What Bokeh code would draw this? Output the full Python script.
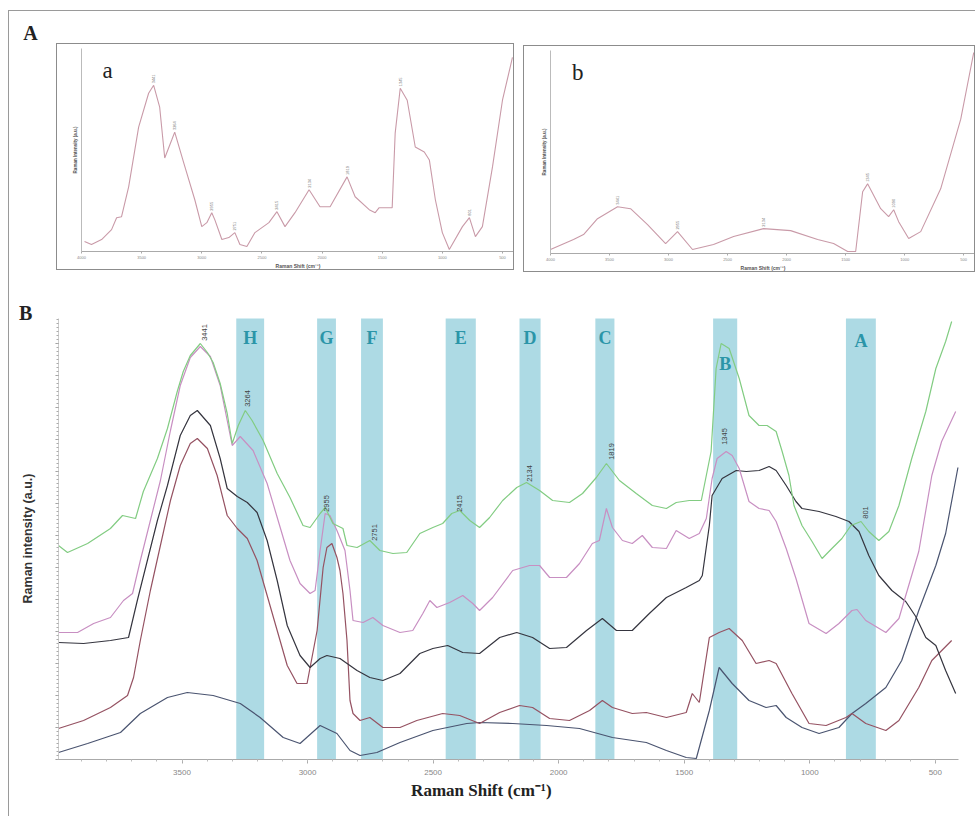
from math import pi
from bokeh.plotting import figure
from bokeh.models import (Range1d, Label, FixedTicker, SingleIntervalTicker,
                          CustomJSTickFormatter, Spacer, ColumnDataSource)
from bokeh.layouts import row, column
from bokeh.embed import file_html
from bokeh.resources import INLINE
from bokeh.core.properties import value

SERIF = "Liberation Serif"
SANS = "Liberation Sans"

# ---------------- Panel A-a (single spectrum) ----------------
a_shift = [3975, 3917, 3833, 3750, 3708, 3667, 3608, 3525, 3442, 3400, 3350, 3308, 3250, 3225,
           3150, 3058, 3000, 2958, 2917, 2892, 2833, 2775, 2725, 2683, 2625, 2558, 2442, 2375,
           2308, 2225, 2108, 2017, 1933, 1792, 1725, 1608, 1558, 1525, 1417, 1392, 1350, 1292,
           1225, 1150, 1108, 1058, 1000, 942, 833, 775, 725, 667, 583, 500, 417]
a_int = [10, 7, 12, 22, 34, 35, 65, 125, 159, 167, 145, 94, 112, 120, 89, 52, 25, 29, 39, 32,
         12, 14, 19, 7, 5, 19, 29, 40, 25, 39, 62, 45, 45, 75, 55, 42, 39, 44, 44, 119, 164, 152,
         105, 100, 92, 52, 19, 2, 25, 34, 15, 25, 85, 152, 195]
a_peak_x = [3400, 3225, 2917, 2725, 2375, 2108, 1792, 1350, 775]
a_peak_y = [167, 120, 39, 19, 40, 62, 75, 164, 34]
a_peak_txt = ["3441", "3264", "2955", "2751", "2415", "2134", "1819", "1345", "801"]

# ---------------- Panel A-b (single spectrum) ----------------
b_shift = [4000, 3805, 3720, 3602, 3432, 3322, 3178, 3025, 2924, 2797, 2619, 2449, 2195, 1966,
           1737, 1602, 1483, 1415, 1356, 1314, 1203, 1136, 1093, 1051, 966, 864, 695, 525, 415]
b_int = [4, 14, 19, 35, 47, 45, 29, 10, 22, 4, 9, 17, 25, 23, 14, 10, 2, 2, 62, 70, 45, 37, 44,
         32, 15, 22, 65, 135, 202]
b_peak_x = [3432, 2924, 2195, 1314, 1093]
b_peak_y = [47, 22, 25, 70, 44]
b_peak_txt = ["3441", "2955", "2134", "1345", "1090"]

small_ticks = [4000, 3500, 3000, 2500, 2000, 1500, 1000, 500]

# ---------------- Panel B (five spectra) ----------------
green_x = [3992, 3956, 3876, 3785, 3737, 3685, 3654, 3598, 3558, 3519, 3495, 3467, 3427, 3399,
           3376, 3348, 3320, 3300, 3276, 3248, 3221, 3177, 3121, 3070, 3018, 2990, 2950, 2930,
           2899, 2859, 2843, 2803, 2752, 2712, 2660, 2605, 2553, 2501, 2462, 2426, 2394, 2354,
           2315, 2275, 2223, 2167, 2128, 2076, 2024, 1957, 1905, 1850, 1810, 1758, 1691, 1627,
           1571, 1532, 1480, 1432, 1393, 1373, 1353, 1321, 1281, 1242, 1202, 1170, 1134, 1110,
           1083, 1063, 1031, 991, 951, 912, 872, 836, 796, 765, 725, 685, 645, 594, 538, 498,
           459, 435]
green_y = [214, 207, 216, 231, 244, 241, 268, 301, 331, 368, 388, 404, 416, 407, 397, 376, 346,
           316, 334, 349, 339, 319, 286, 262, 234, 232, 246, 252, 236, 231, 214, 212, 219, 209,
           206, 207, 226, 232, 236, 246, 249, 239, 232, 242, 259, 272, 277, 269, 259, 257, 266,
           282, 296, 279, 266, 254, 251, 257, 259, 259, 308, 391, 416, 411, 381, 344, 334, 334,
           328, 308, 284, 254, 234, 218, 201, 211, 221, 234, 238, 228, 219, 228, 254, 301, 348,
           391, 418, 438]

pink_x = [3992, 3916, 3852, 3785, 3733, 3697, 3666, 3626, 3586, 3546, 3507, 3467, 3427, 3387,
          3348, 3320, 3300, 3268, 3217, 3161, 3109, 3070, 3030, 2990, 2970, 2950, 2930, 2911,
          2883, 2851, 2831, 2819, 2779, 2740, 2700, 2632, 2581, 2541, 2513, 2485, 2434, 2382,
          2342, 2315, 2263, 2183, 2116, 2076, 2036, 1969, 1917, 1866, 1838, 1810, 1786, 1746,
          1707, 1667, 1627, 1571, 1532, 1480, 1440, 1412, 1389, 1369, 1333, 1309, 1281, 1242,
          1202, 1162, 1134, 1094, 1055, 1003, 935, 884, 832, 812, 777, 697, 645, 566, 514, 475,
          419]
pink_y = [127, 127, 136, 142, 159, 166, 199, 239, 279, 329, 374, 402, 413, 403, 374, 339, 314,
          323, 309, 276, 232, 199, 176, 166, 169, 209, 246, 244, 229, 209, 169, 139, 137, 142,
          134, 127, 129, 146, 159, 152, 157, 164, 156, 149, 162, 189, 194, 194, 182, 182, 196,
          216, 219, 251, 232, 219, 216, 224, 212, 211, 229, 221, 226, 241, 281, 301, 308, 304,
          291, 258, 251, 249, 238, 211, 181, 136, 126, 136, 149, 150, 139, 127, 141, 208, 284,
          318, 348]

black_x = [3992, 3892, 3785, 3713, 3678, 3638, 3598, 3558, 3507, 3467, 3439, 3387, 3348, 3320,
           3280, 3240, 3201, 3161, 3121, 3081, 3030, 2990, 2950, 2923, 2871, 2803, 2752, 2700,
           2632, 2553, 2501, 2442, 2382, 2315, 2235, 2167, 2104, 2036, 1969, 1889, 1826, 1770,
           1707, 1639, 1571, 1492, 1440, 1428, 1400, 1389, 1349, 1293, 1253, 1202, 1162, 1134,
           1094, 1055, 1031, 963, 896, 844, 804, 765, 725, 673, 618, 578, 538, 498, 459, 419]
black_y = [117, 116, 119, 122, 159, 199, 239, 274, 324, 344, 349, 334, 301, 271, 263, 257, 247,
           219, 179, 134, 104, 92, 101, 104, 101, 89, 82, 79, 86, 106, 111, 114, 107, 106, 122,
           127, 122, 111, 112, 129, 141, 129, 129, 146, 162, 172, 179, 184, 234, 264, 281, 289,
           288, 289, 293, 289, 274, 258, 251, 248, 243, 238, 228, 204, 184, 169, 158, 143, 122,
           114, 89, 66]

brown_x = [3992, 3892, 3785, 3717, 3693, 3666, 3626, 3586, 3546, 3507, 3467, 3439, 3399, 3360,
           3320, 3280, 3240, 3201, 3161, 3121, 3081, 3042, 3002, 2962, 2938, 2923, 2903, 2883,
           2871, 2859, 2843, 2831, 2819, 2791, 2752, 2700, 2632, 2565, 2462, 2394, 2315, 2235,
           2156, 2104, 2036, 1957, 1877, 1826, 1786, 1707, 1651, 1571, 1492, 1468, 1440, 1400,
           1361, 1321, 1269, 1214, 1162, 1134, 1071, 1003, 935, 856, 832, 777, 697, 645, 566,
           514, 435]
brown_y = [31, 39, 52, 64, 82, 119, 169, 214, 259, 294, 316, 321, 311, 284, 244, 231, 221, 199,
           164, 129, 94, 76, 76, 129, 192, 212, 216, 202, 189, 166, 119, 59, 46, 39, 42, 32, 32,
           39, 46, 44, 36, 47, 54, 52, 41, 39, 49, 59, 52, 46, 47, 42, 47, 66, 57, 122, 127, 131,
           119, 96, 99, 96, 66, 36, 34, 42, 46, 36, 29, 39, 72, 99, 119]

blue_x = [3992, 3876, 3745, 3666, 3558, 3479, 3376, 3268, 3189, 3097, 3030, 2950, 2883, 2831,
          2791, 2724, 2632, 2501, 2366, 2315, 2183, 2048, 1917, 1786, 1651, 1571, 1492, 1452,
          1400, 1361, 1309, 1242, 1174, 1134, 1094, 1031, 963, 884, 832, 777, 697, 634, 566,
          498, 459, 410]
blue_y = [7, 16, 27, 46, 62, 67, 64, 56, 42, 22, 16, 34, 26, 9, 4, 7, 17, 29, 36, 37, 36, 34,
          31, 22, 17, 9, 2, 1, 49, 92, 76, 59, 52, 54, 42, 32, 26, 32, 46, 56, 72, 99, 149, 194,
          226, 292]

# highlighted bands
band_names = ["H", "G", "F", "E", "D", "C", "B", "A"]
band_hi = [3284, 2962, 2787, 2450, 2156, 1854, 1385, 856]
band_lo = [3173, 2887, 2700, 2330, 2072, 1778, 1289, 737]

# peak annotations
peak_txt = ["3441", "3264", "2955", "2751", "2415", "2134", "1819", "1345", "801"]
peak_lx = [3411, 3240, 2923, 2732, 2394, 2116, 1790, 1341, 777]
peak_ly = [427, 361, 256, 227, 256, 286, 308, 323, 247]

x_ticks = [3500, 3000, 2500, 2000, 1500, 1000, 500]

# layout constants
X_MAX, X_MIN = 3992, 408          # drawn extent of the shift axis
Y_TOP = 441                       # top of the intensity axis
BAND_LABEL_Y = [422, 422, 422, 422, 422, 422, 396, 419]
BORDER = "1.5px solid #8c8c8c"


def small_panel(shift, inten, px, py, ptxt, letter, letter_x, width, mbl, top_margin):
    p = figure(width=width, height=227, x_range=Range1d(4000, 400), y_range=Range1d(0, 204),
               toolbar_location=None, output_backend="svg",
               min_border_left=mbl, min_border_right=1, min_border_top=4, min_border_bottom=16,
               margin=(top_margin, 0, 0, 0), styles={"border": BORDER})
    p.grid.visible = False
    p.outline_line_color = None
    p.line(shift, inten, line_color="#c99aa8", line_width=1.1)
    p.text(x=px, y=[v + 2 for v in py], text=ptxt, angle=pi / 2, text_font=value(SANS),
           text_font_size="4px", text_color="#777", text_align="left", text_baseline="middle")
    p.add_layout(Label(x=letter_x, y=182, text=letter, text_font=SERIF, text_font_size="23px",
                       text_color="#222", text_align="center", text_baseline="middle"))
    xa = p.xaxis[0]
    xa.ticker = FixedTicker(ticks=small_ticks)
    xa.major_label_text_font_size = "4px"
    xa.major_label_text_color = "#888"
    xa.major_label_standoff = 2
    xa.major_tick_out = 2
    xa.major_tick_in = 0
    xa.minor_tick_line_color = None
    xa.axis_line_color = "#aaa"
    xa.major_tick_line_color = "#aaa"
    xa.axis_label = "Raman Shift (cm⁻¹)"
    xa.axis_label_text_font_size = "5px"
    xa.axis_label_text_font_style = "bold"
    xa.axis_label_text_font = SANS
    xa.axis_label_text_color = "#555"
    xa.axis_label_standoff = 1
    ya = p.yaxis[0]
    ya.ticker = FixedTicker(ticks=[])
    ya.axis_line_color = "#bbb"
    ya.axis_label = "Raman Intensity (a.u.)"
    ya.axis_label_text_font_size = "4.5px"
    ya.axis_label_text_font_style = "bold"
    ya.axis_label_text_font = SANS
    ya.axis_label_text_color = "#555"
    ya.axis_label_standoff = 4
    return p


fa = small_panel(a_shift, a_int, a_peak_x, a_peak_y, a_peak_txt, "a", 3782, 458, 24, 32)
fb = small_panel(b_shift, b_int, b_peak_x, b_peak_y, b_peak_txt, "b", 3770, 452, 26, 34)

# "A" tag
fA = figure(width=47, height=275, x_range=Range1d(0, 47), y_range=Range1d(0, 275),
            toolbar_location=None, output_backend="svg", x_axis_location=None,
            y_axis_location=None, min_border=0)
fA.grid.visible = False
fA.outline_line_color = None
fA.add_layout(Label(x=21, y=256, text="A", text_font=SERIF, text_font_style="bold",
                    text_font_size="20px", text_color="#222", text_align="center",
                    text_baseline="middle"))

# Panel B: the frame spans the whole figure; axes are pinned inside it
pB = figure(width=962, height=530, x_range=Range1d(4187, 356), y_range=Range1d(-57, 473),
            toolbar_location=None, output_backend="svg",
            min_border_left=0, min_border_right=0, min_border_top=0, min_border_bottom=0)
pB.grid.visible = False
pB.outline_line_color = None

pB.quad(left=band_lo, right=band_hi, bottom=0, top=Y_TOP, fill_color="#a9d8e3",
        fill_alpha=0.95, line_color=None)

pB.line(blue_x, blue_y, line_color="#4a5470", line_width=1.2)
pB.line(brown_x, brown_y, line_color="#955262", line_width=1.2)
pB.line(black_x, black_y, line_color="#35353f", line_width=1.2)
pB.line(pink_x, pink_y, line_color="#c88fc2", line_width=1.2)
pB.line(green_x, green_y, line_color="#82cc82", line_width=1.2)

band_src = ColumnDataSource(dict(x=[(a + b) / 2 for a, b in zip(band_lo, band_hi)],
                                 y=BAND_LABEL_Y, t=band_names))
pB.text(x="x", y="y", text="t", source=band_src, text_font=value(SERIF),
        text_font_style="bold", text_font_size="18px", text_color="#2b95a8",
        text_align="center", text_baseline="middle")

peak_src = ColumnDataSource(dict(x=peak_lx, y=peak_ly, t=peak_txt))
pB.text(x="x", y="y", text="t", source=peak_src, angle=pi / 2, text_font=value(SANS),
        text_font_size="7.5px", text_color="#444", text_align="center",
        text_baseline="middle")

xa = pB.xaxis[0]
xa.fixed_location = 0
xa.bounds = (X_MIN, X_MAX)
xa.ticker = FixedTicker(ticks=x_ticks, minor_ticks=list(range(3900, 400, -100)))
xa.major_label_text_font_size = "8px"
xa.major_label_text_color = "#888"
xa.major_label_text_font = SANS
xa.major_label_standoff = 6
xa.axis_line_color = "#aaa"
xa.major_tick_line_color = "#aaa"
xa.minor_tick_line_color = "#bbb"
xa.major_tick_out = 4
xa.major_tick_in = 0
xa.minor_tick_out = 2
xa.minor_tick_in = 0

ya = pB.yaxis[0]
ya.fixed_location = X_MAX
ya.bounds = (0, Y_TOP)
ya.ticker = SingleIntervalTicker(interval=32, num_minor_ticks=8)
ya.formatter = CustomJSTickFormatter(code="return ''")
ya.axis_line_color = "#ccc"
ya.major_tick_line_color = "#999"
ya.minor_tick_line_color = "#aaa"
ya.major_tick_out = 3
ya.major_tick_in = 0
ya.minor_tick_out = 2
ya.minor_tick_in = 0

pB.add_layout(Label(x=4123, y=447, text="B", text_font=SERIF, text_font_style="bold",
                    text_font_size="20px", text_color="#222", text_align="center",
                    text_baseline="middle"))
pB.add_layout(Label(x=2308, y=-31, text="Raman Shift (cm⁻¹)", text_font=SERIF,
                    text_font_style="bold", text_font_size="17px", text_color="#222",
                    text_align="center", text_baseline="middle"))
pB.add_layout(Label(x=4115, y=221, text="Raman intensity (a.u.)", angle=pi / 2,
                    text_font=SANS, text_font_style="bold", text_font_size="12.5px",
                    text_color="#333", text_align="center", text_baseline="middle"))

top = row(fA, fa, Spacer(width=9, height=10), fb)
page = column(top, pB, margin=(10, 0, 0, 8),
              styles={"border-top": "1px solid #9a9a9a", "border-left": "1px solid #9a9a9a"})

open("out.html", "w").write(file_html(page, INLINE))
